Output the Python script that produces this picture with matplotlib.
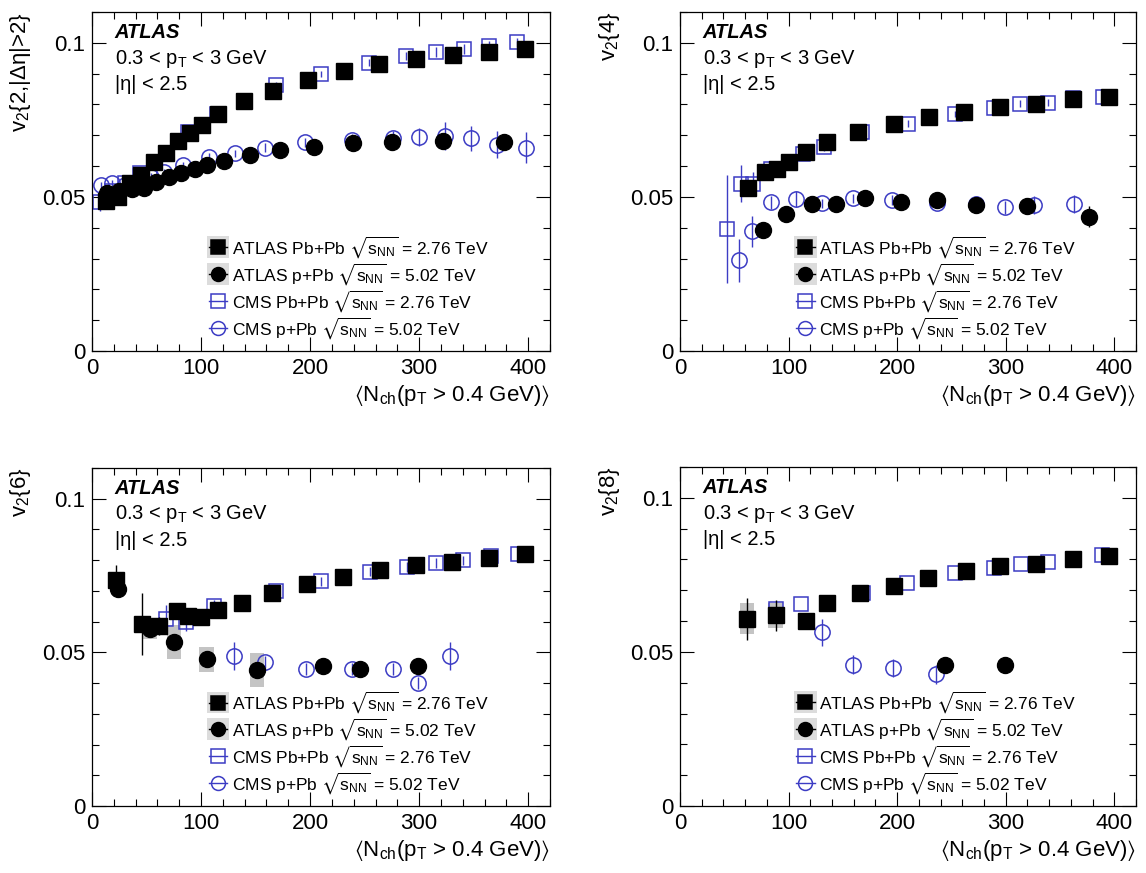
import matplotlib
matplotlib.use('Agg')
import matplotlib.pyplot as plt
from matplotlib.ticker import MultipleLocator, FuncFormatter

plt.rcParams['font.family'] = ['Liberation Sans', 'DejaVu Sans']
plt.rcParams['mathtext.fontset'] = 'custom'
plt.rcParams['mathtext.rm'] = 'Liberation Sans'
plt.rcParams['mathtext.it'] = 'Liberation Sans'
plt.rcParams['mathtext.bf'] = 'Liberation Sans:bold'
plt.rcParams['mathtext.sf'] = 'Liberation Sans'
plt.rcParams['mathtext.fallback'] = 'stixsans'

# ---- v2{2,|deta|>2} ----
v22_atlas_pbpb_x = [13, 24, 35, 45, 57, 68, 79, 90, 101, 116, 139, 166, 198, 231, 263, 297, 331, 364, 397]
v22_atlas_pbpb_y = [0.0486, 0.0500, 0.0545, 0.0571, 0.0613, 0.0643, 0.0683, 0.0708, 0.0734, 0.0768,
                    0.0810, 0.0845, 0.0879, 0.0910, 0.0930, 0.0947, 0.0960, 0.0971, 0.0980]
v22_atlas_ppb_x = [14, 25, 37, 48, 59, 71, 82, 94, 105, 121, 145, 172, 204, 239, 275, 322, 378]
v22_atlas_ppb_y = [0.0513, 0.0520, 0.0527, 0.0530, 0.0549, 0.0565, 0.0578, 0.0590, 0.0603, 0.0616,
                   0.0635, 0.0651, 0.0663, 0.0676, 0.0679, 0.0681, 0.0679]
v22_cms_pbpb_x = [7, 18, 30, 44, 88, 115, 139, 169, 210, 254, 288, 315, 341, 364, 390]
v22_cms_pbpb_y = [0.0484, 0.0520, 0.0546, 0.0576, 0.0711, 0.0769, 0.0812, 0.0862, 0.0900, 0.0936,
                  0.0957, 0.0970, 0.0980, 0.0990, 0.1002]
v22_cms_pbpb_err = [0.003, 0.001, 0.001, 0.001, 0.001, 0.0012, 0.0012, 0.0012, 0.001, 0.001,
                    0.0012, 0.0015, 0.0015, 0.0015, 0.0015]
v22_cms_ppb_x = [8, 18, 30, 42, 54, 66, 83, 107, 131, 159, 195, 238, 276, 300, 324, 348, 371, 398]
v22_cms_ppb_y = [0.0538, 0.0544, 0.0540, 0.0552, 0.0566, 0.0582, 0.0604, 0.0630, 0.0641, 0.0660,
                 0.0677, 0.0686, 0.0692, 0.0695, 0.0697, 0.0690, 0.0670, 0.0660]
v22_cms_ppb_err = [0.001, 0.001, 0.001, 0.001, 0.001, 0.001, 0.001, 0.0012, 0.0012, 0.0015,
                   0.0015, 0.0018, 0.0022, 0.003, 0.0045, 0.004, 0.0045, 0.005]

# ---- v2{4} ----
v24_atlas_pbpb_x = [63, 78, 89, 100, 116, 135, 164, 197, 229, 262, 295, 328, 362, 395]
v24_atlas_pbpb_y = [0.0530, 0.0582, 0.0592, 0.0612, 0.0646, 0.0679, 0.0709, 0.0738, 0.0758, 0.0777,
                    0.0792, 0.0803, 0.0817, 0.0825]
v24_atlas_ppb_x = [76, 98, 122, 144, 170, 204, 237, 273, 320, 377]
v24_atlas_ppb_y = [0.0392, 0.0446, 0.0477, 0.0477, 0.0498, 0.0484, 0.0490, 0.0475, 0.0470, 0.0436]
v24_atlas_ppb_err = [0.001, 0.001, 0.001, 0.001, 0.001, 0.001, 0.001, 0.0012, 0.0015, 0.0035]
v24_cms_pbpb_x = [43, 56, 67, 84, 113, 133, 168, 210, 253, 289, 313, 339, 362, 390]
v24_cms_pbpb_y = [0.0396, 0.0542, 0.0542, 0.0592, 0.0639, 0.0663, 0.0709, 0.0738, 0.0768, 0.0787,
                  0.0803, 0.0806, 0.0822, 0.0825]
v24_cms_pbpb_err = [0.0175, 0.006, 0.004, 0.002, 0.0015, 0.0015, 0.001, 0.001, 0.001, 0.001,
                    0.001, 0.0012, 0.0012, 0.0012]
v24_cms_ppb_x = [54, 66, 84, 107, 131, 159, 195, 237, 273, 299, 326, 363]
v24_cms_ppb_y = [0.0295, 0.0389, 0.0482, 0.0493, 0.0479, 0.0495, 0.0490, 0.0479, 0.0476, 0.0466,
                 0.0474, 0.0477]
v24_cms_ppb_err = [0.007, 0.005, 0.002, 0.0025, 0.0015, 0.0015, 0.0015, 0.0015, 0.002, 0.002,
                   0.003, 0.003]

# ---- v2{6} ----
v26_atlas_pbpb_x = [22, 46, 61, 78, 88, 100, 116, 138, 165, 197, 230, 264, 297, 330, 364, 397]
v26_atlas_pbpb_y = [0.0735, 0.0593, 0.0585, 0.0633, 0.0619, 0.0615, 0.0639, 0.0662, 0.0693, 0.0722,
                    0.0745, 0.0767, 0.0785, 0.0794, 0.0808, 0.0819]
v26_atlas_pbpb_err = [0.0048, 0.0100, 0.003, 0.0025, 0.0015, 0.001, 0.001, 0.001, 0.001, 0.001,
                      0.001, 0.001, 0.001, 0.001, 0.001, 0.001]
v26_atlas_ppb_x = [24, 53, 75, 105, 151, 212, 246, 299]
v26_atlas_ppb_y = [0.0705, 0.0577, 0.0533, 0.0477, 0.0442, 0.0455, 0.0445, 0.0456]
v26_atlas_ppb_err = [0.0025, 0.002, 0.002, 0.0015, 0.0015, 0.001, 0.001, 0.001]
v26_atlas_ppb_syst = [0.0, 0.0035, 0.0055, 0.004, 0.0055, 0.0, 0.0008, 0.0]
v26_cms_pbpb_x = [68, 86, 112, 138, 169, 210, 255, 289, 315, 340, 366, 391]
v26_cms_pbpb_y = [0.0610, 0.0599, 0.0651, 0.0659, 0.0700, 0.0731, 0.0762, 0.0778, 0.0791, 0.0800,
                  0.0813, 0.0819]
v26_cms_pbpb_err = [0.0045, 0.003, 0.002, 0.002, 0.0015, 0.0015, 0.0015, 0.0015, 0.0015, 0.0015,
                    0.0015, 0.0015]
v26_cms_ppb_x = [130, 159, 196, 238, 276, 299, 328]
v26_cms_ppb_y = [0.0488, 0.0469, 0.0447, 0.0447, 0.0445, 0.0401, 0.0488]
v26_cms_ppb_err = [0.0045, 0.002, 0.002, 0.002, 0.002, 0.002, 0.0045]

# ---- v2{8} ----
v28_atlas_pbpb_x = [62, 88, 116, 135, 166, 197, 228, 263, 295, 328, 362, 395]
v28_atlas_pbpb_y = [0.0608, 0.0619, 0.0601, 0.0658, 0.0692, 0.0714, 0.0740, 0.0761, 0.0778, 0.0786,
                    0.0802, 0.0811]
v28_atlas_pbpb_err = [0.0068, 0.005, 0.002, 0.0015, 0.001, 0.001, 0.001, 0.001, 0.001, 0.001,
                      0.001, 0.001]
v28_atlas_pbpb_syst = [0.005, 0.004, 0.0, 0.0, 0.0, 0.0, 0.0, 0.0, 0.0, 0.0, 0.0, 0.0]
v28_atlas_ppb_x = [244, 299]
v28_atlas_ppb_y = [0.0459, 0.0459]
v28_cms_pbpb_x = [88, 111, 136, 169, 209, 253, 289, 314, 339, 362, 389]
v28_cms_pbpb_y = [0.0640, 0.0654, 0.0657, 0.0692, 0.0724, 0.0756, 0.0773, 0.0786, 0.0792, 0.0802,
                  0.0813]
v28_cms_ppb_x = [131, 159, 196, 236]
v28_cms_ppb_y = [0.0563, 0.0459, 0.0448, 0.0427]
v28_cms_ppb_err = [0.0045, 0.003, 0.003, 0.003]

ylabels = ['v$_{2}${2,|Δη|>2}', 'v$_{2}${4}', 'v$_{2}${6}', 'v$_{2}${8}']
xlabel = r'$\langle$N$_{\rm ch}$(p$_{\rm T}$ > 0.4 GeV)$\rangle$'
legend_labels = [r'ATLAS Pb+Pb $\sqrt{s_{\rm NN}}$ = 2.76 TeV',
                 r'ATLAS p+Pb $\sqrt{s_{\rm NN}}$ = 5.02 TeV',
                 r'CMS Pb+Pb $\sqrt{s_{\rm NN}}$ = 2.76 TeV',
                 r'CMS p+Pb $\sqrt{s_{\rm NN}}$ = 5.02 TeV']

CMS_BLUE = '#3c3cc4'
SYS_GRAY = '#c4c4c4'

panels = [
    dict(ap_x=v22_atlas_pbpb_x, ap_y=v22_atlas_pbpb_y, ap_e=None, ap_s=None,
         pp_x=v22_atlas_ppb_x, pp_y=v22_atlas_ppb_y, pp_e=None, pp_s=None,
         cp_x=v22_cms_pbpb_x, cp_y=v22_cms_pbpb_y, cp_e=v22_cms_pbpb_err,
         cq_x=v22_cms_ppb_x, cq_y=v22_cms_ppb_y, cq_e=v22_cms_ppb_err),
    dict(ap_x=v24_atlas_pbpb_x, ap_y=v24_atlas_pbpb_y, ap_e=None, ap_s=None,
         pp_x=v24_atlas_ppb_x, pp_y=v24_atlas_ppb_y, pp_e=v24_atlas_ppb_err, pp_s=None,
         cp_x=v24_cms_pbpb_x, cp_y=v24_cms_pbpb_y, cp_e=v24_cms_pbpb_err,
         cq_x=v24_cms_ppb_x, cq_y=v24_cms_ppb_y, cq_e=v24_cms_ppb_err),
    dict(ap_x=v26_atlas_pbpb_x, ap_y=v26_atlas_pbpb_y, ap_e=v26_atlas_pbpb_err, ap_s=None,
         pp_x=v26_atlas_ppb_x, pp_y=v26_atlas_ppb_y, pp_e=v26_atlas_ppb_err, pp_s=v26_atlas_ppb_syst,
         cp_x=v26_cms_pbpb_x, cp_y=v26_cms_pbpb_y, cp_e=v26_cms_pbpb_err,
         cq_x=v26_cms_ppb_x, cq_y=v26_cms_ppb_y, cq_e=v26_cms_ppb_err),
    dict(ap_x=v28_atlas_pbpb_x, ap_y=v28_atlas_pbpb_y, ap_e=v28_atlas_pbpb_err, ap_s=v28_atlas_pbpb_syst,
         pp_x=v28_atlas_ppb_x, pp_y=v28_atlas_ppb_y, pp_e=None, pp_s=None,
         cp_x=v28_cms_pbpb_x, cp_y=v28_cms_pbpb_y, cp_e=None,
         cq_x=v28_cms_ppb_x, cq_y=v28_cms_ppb_y, cq_e=v28_cms_ppb_err),
]

fig = plt.figure(figsize=(11.46, 8.73), dpi=100)
W, H = 1146.0, 873.0
# axes boxes in pixels: left, top, right, bottom
boxes = [(92, 12, 550, 351), (680, 12, 1136, 351),
         (92, 468, 550, 806), (680, 467, 1136, 806)]


def draw_legend(ax):
    rows = [0.306, 0.227, 0.148, 0.069]
    styles = [('s', 'k', 'k', True), ('o', 'k', 'k', True),
              ('s', 'none', CMS_BLUE, False), ('o', 'none', CMS_BLUE, False)]
    for yy, lab, (m, fc, ec, sys_box) in zip(rows, legend_labels, styles):
        if sys_box:
            ax.add_patch(plt.Rectangle((0.25, yy - 0.032), 0.05, 0.064, transform=ax.transAxes,
                                       color='#dcdcdc', lw=0, zorder=4))
        ax.plot([0.255, 0.295], [yy, yy], transform=ax.transAxes, color=ec, lw=1, zorder=5)
        ax.plot([0.275], [yy], transform=ax.transAxes, marker=m, ms=10, mfc=fc, mec=ec,
                mew=1.1, ls='none', zorder=6)
        ax.text(0.305, yy, lab, transform=ax.transAxes, fontsize=12.5, va='center', ha='left')


for i, p in enumerate(panels):
    l, t, r, b = boxes[i]
    ax = fig.add_axes([l / W, 1 - b / H, (r - l) / W, (b - t) / H])

    # systematic boxes
    if p['ap_s'] is not None:
        lo = [y - s for y, s in zip(p['ap_y'], p['ap_s'])]
        ax.bar(p['ap_x'], [2 * s for s in p['ap_s']], bottom=lo, width=13, color=SYS_GRAY, lw=0, zorder=1)
    if p['pp_s'] is not None:
        lo = [y - s for y, s in zip(p['pp_y'], p['pp_s'])]
        ax.bar(p['pp_x'], [2 * s for s in p['pp_s']], bottom=lo, width=13, color=SYS_GRAY, lw=0, zorder=1)

    ax.errorbar(p['cp_x'], p['cp_y'], yerr=p['cp_e'], fmt='s', ms=10.5, mfc='none', mec=CMS_BLUE,
                mew=1.1, ecolor=CMS_BLUE, elinewidth=1, capsize=0, zorder=2)
    ax.errorbar(p['cq_x'], p['cq_y'], yerr=p['cq_e'], fmt='o', ms=11, mfc='none', mec=CMS_BLUE,
                mew=1.1, ecolor=CMS_BLUE, elinewidth=1, capsize=0, zorder=2)
    ax.errorbar(p['ap_x'], p['ap_y'], yerr=p['ap_e'], fmt='s', ms=11, color='k',
                elinewidth=1, capsize=0, zorder=3)
    ax.errorbar(p['pp_x'], p['pp_y'], yerr=p['pp_e'], fmt='o', ms=11.5, color='k',
                elinewidth=1, capsize=0, zorder=3)

    ax.set_xlim(0, 420)
    ax.set_ylim(0, 0.11)
    ax.xaxis.set_major_locator(MultipleLocator(100))
    ax.xaxis.set_minor_locator(MultipleLocator(20))
    ax.yaxis.set_major_locator(MultipleLocator(0.05))
    ax.yaxis.set_minor_locator(MultipleLocator(0.01))
    ax.yaxis.set_major_formatter(FuncFormatter(lambda v, pos: '%g' % round(v, 3)))
    ax.xaxis.set_major_formatter(FuncFormatter(lambda v, pos: '%g' % v))
    ax.tick_params(which='both', direction='in', top=True, right=True, labelsize=16, width=0.8)
    ax.tick_params(which='major', length=10, pad=5)
    ax.tick_params(which='minor', length=5)
    for sp in ax.spines.values():
        sp.set_linewidth(0.9)

    ax.set_ylabel(ylabels[i], fontsize=16, loc='top')
    ax.yaxis.set_label_coords(-0.128, 1.0)
    ax.set_xlabel(xlabel, fontsize=16, loc='right')
    ax.xaxis.set_label_coords(1.0, -0.095)

    ax.text(0.05, 0.924, 'ATLAS', transform=ax.transAxes, fontsize=14.5, fontweight='bold',
            style='italic', va='baseline')
    ax.text(0.05, 0.848, r'0.3 < $p_{\rm T}$ < 3 GeV', transform=ax.transAxes, fontsize=14.5,
            va='baseline')
    ax.text(0.05, 0.769, '|η| < 2.5', transform=ax.transAxes, fontsize=14.5, va='baseline')

    draw_legend(ax)

fig.savefig('out.png', dpi=100)
